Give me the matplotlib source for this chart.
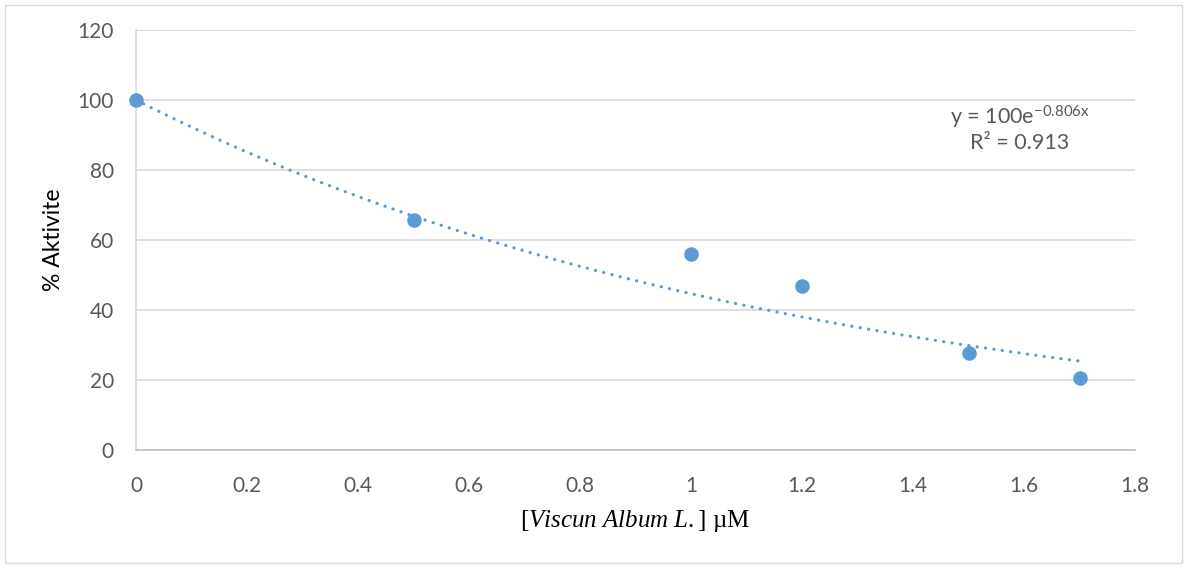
import numpy as np
import matplotlib.pyplot as plt
from matplotlib.patches import Rectangle

plt.rcParams['mathtext.fontset'] = 'custom'
plt.rcParams['mathtext.rm'] = 'Liberation Serif'
plt.rcParams['mathtext.it'] = 'Liberation Serif:italic'
plt.rcParams['axes.unicode_minus'] = False

# measured points
conc = [0, 0.5, 1.0, 1.2, 1.5, 1.7]
activity = [100, 65.6, 56, 47, 27.6, 20.6]

# exponential trendline y = a*exp(b*x)
fit_a = 100
fit_b = -0.806
fit_r2 = 0.913

blue = '#5b9bd5'
gray_txt = '#595959'

fig = plt.figure(figsize=(11.88, 5.68), dpi=100)
ax = fig.add_axes([136/1188, 1-450/568, (1135-136)/1188, (450-30)/568])

fig.patches.append(Rectangle((5/1188, 5/568), 1177/1188, 558/568, transform=fig.transFigure,
                             fill=False, edgecolor='#d9d9d9', linewidth=1))

x_fit = np.linspace(min(conc), max(conc), 200)
y_fit = fit_a*np.exp(fit_b*x_fit)
ax.plot(x_fit, y_fit, color=blue, linewidth=2.3, linestyle=(0, (0.05, 2.6)),
        dash_capstyle='round', zorder=2)
ax.scatter(conc, activity, s=110, color=blue, zorder=3, linewidths=0, clip_on=False)

ax.set_xlim(0, 1.8)
ax.set_ylim(0, 120)
ax.set_xticks(np.arange(0, 1.81, 0.2))
ax.set_xticklabels(['0', '0.2', '0.4', '0.6', '0.8', '1', '1.2', '1.4', '1.6', '1.8'])
ax.set_yticks(np.arange(0, 121, 20))
ax.grid(axis='y', color='#d9d9d9', linewidth=1.2)
ax.set_axisbelow(True)
for s in ['top', 'right']:
    ax.spines[s].set_visible(False)
ax.spines['left'].set_color('#d9d9d9')
ax.spines['bottom'].set_color('#bfbfbf')
ax.spines['left'].set_linewidth(1.2)
ax.spines['bottom'].set_linewidth(1.2)
ax.tick_params(length=0, labelsize=15, labelcolor=gray_txt)
ax.tick_params(axis='x', pad=19)
ax.tick_params(axis='y', pad=16)
for lab in ax.get_xticklabels() + ax.get_yticklabels():
    lab.set_family('Lato')

ax.set_ylabel('% Aktivite', fontsize=16.5, family='Lato', labelpad=10)
ax.set_xlabel(r'[$\mathit{Viscun\ Album\ L.}$] µM', fontsize=18, family='Liberation Serif', labelpad=8)

ax.text(1.593, 95.2, r'y = 100e$^{\mathregular{-0.806x}}$', fontsize=15.5, color=gray_txt,
        family='Lato', ha='center', va='center')
ax.text(1.593, 87.8, 'R² = %.3f' % fit_r2, fontsize=15.5, color=gray_txt,
        family='Lato', ha='center', va='center')

fig.savefig('out.png', dpi=100)
